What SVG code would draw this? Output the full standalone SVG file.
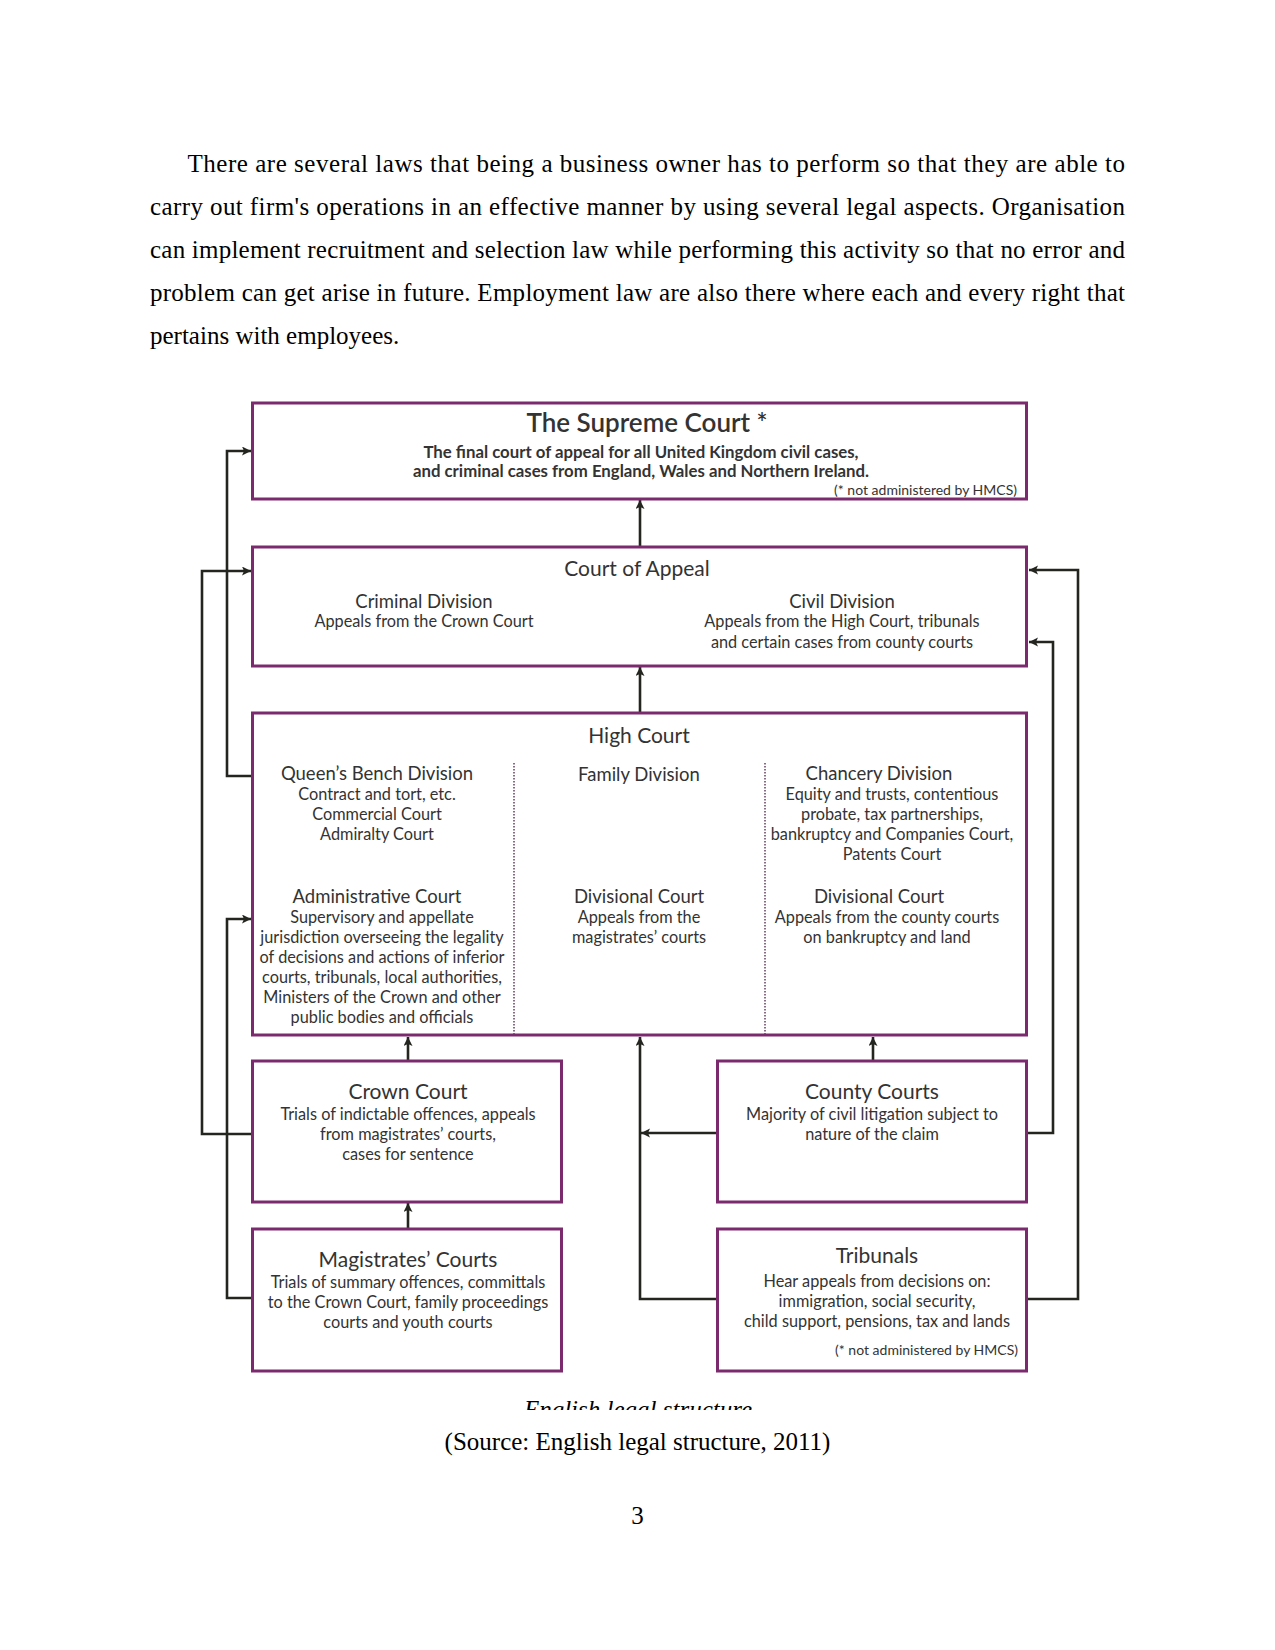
<svg xmlns="http://www.w3.org/2000/svg" width="1275" height="1650" viewBox="0 0 1275 1650">
<defs>
<style>
.p{font-family:"Liberation Serif",serif;font-size:25px;fill:#000}
.box{fill:#fff;stroke:#7b2a6e;stroke-width:3}
.ln{fill:none;stroke:#252520;stroke-width:2.6}
.div{stroke:#6b4a66;stroke-width:1.6;stroke-dasharray:1.5 1.5}
.g{font-family:Lato,"Open Sans",sans-serif;fill:#333;text-anchor:middle}
.h{font-size:21px}
.s{font-size:18.5px}
.b{font-size:16.3px}
.n{font-size:14px;text-anchor:end}
</style>
<marker id="ah" markerWidth="10" markerHeight="10" refX="9" refY="4.5" orient="auto" markerUnits="userSpaceOnUse">
<path d="M0,0 L9,4.5 L0,9 L2,4.5 z" fill="#252520"/>
</marker>
<clipPath id="cap"><rect x="0" y="0" width="1275" height="1410"/></clipPath>
</defs>
<rect width="1275" height="1650" fill="#fff"/>

<g id="paragraph">
<text class="p" x="187.5" y="172" textLength="937.5" lengthAdjust="spacing">There are several laws that being a business owner has to perform so that they are able to</text>
<text class="p" x="150" y="215" textLength="975" lengthAdjust="spacing">carry out firm's operations in an effective manner by using several legal aspects. Organisation</text>
<text class="p" x="150" y="258" textLength="975" lengthAdjust="spacing">can implement recruitment and selection law while performing this activity so that no error and</text>
<text class="p" x="150" y="301" textLength="975" lengthAdjust="spacing">problem can get arise in future. Employment law are also there where each and every right that</text>
<text class="p" x="150" y="344">pertains with employees.</text>
</g>

<g id="connectors">
<path class="ln" d="M252,776 H227 V451 H251" marker-end="url(#ah)"/>
<path class="ln" d="M252,1134 H202 V571 H251" marker-end="url(#ah)"/>
<path class="ln" d="M252,1298 H227 V919 H251" marker-end="url(#ah)"/>
<path class="ln" d="M640,546 V500" marker-end="url(#ah)"/>
<path class="ln" d="M640,713 V667" marker-end="url(#ah)"/>
<path class="ln" d="M408,1060 V1037" marker-end="url(#ah)"/>
<path class="ln" d="M408,1228 V1203" marker-end="url(#ah)"/>
<path class="ln" d="M873,1060 V1037" marker-end="url(#ah)"/>
<path class="ln" d="M717,1299 H640 V1037" marker-end="url(#ah)"/>
<path class="ln" d="M717,1133 H641" marker-end="url(#ah)"/>
<path class="ln" d="M1027,1133 H1053 V642 H1029" marker-end="url(#ah)"/>
<path class="ln" d="M1027,1299 H1078 V570 H1029" marker-end="url(#ah)"/>
</g>

<g id="supreme-court">
<rect class="box" x="252.5" y="403" width="774" height="96"/>
<text class="g" x="647" y="432" font-size="26" font-weight="600" fill="#1a1a1a">The Supreme Court *</text>
<text class="g" x="641" y="458" font-size="16.8" font-weight="bold" fill="#1a1a1a">The final court of appeal for all United Kingdom civil cases,</text>
<text class="g" x="641" y="477" font-size="16.8" font-weight="bold" fill="#1a1a1a">and criminal cases from England, Wales and Northern Ireland.</text>
<text class="g n" x="1017" y="495">(* not administered by HMCS)</text>
</g>

<g id="court-of-appeal">
<rect class="box" x="252.5" y="547" width="774" height="119"/>
<text class="g h" x="637" y="576">Court of Appeal</text>
<text class="g s" x="424" y="608">Criminal Division</text>
<text class="g b" x="424" y="627">Appeals from the Crown Court</text>
<text class="g s" x="842" y="608">Civil Division</text>
<text class="g b" x="842" y="627">Appeals from the High Court, tribunals</text>
<text class="g b" x="842" y="648">and certain cases from county courts</text>
</g>

<g id="high-court">
<rect class="box" x="252.5" y="713" width="774" height="322"/>
<line class="div" x1="514" y1="763" x2="514" y2="1034"/>
<line class="div" x1="765" y1="763" x2="765" y2="1034"/>
<text class="g h" x="639" y="743">High Court</text>
<text class="g s" x="377" y="780">Queen’s Bench Division</text>
<text class="g b" x="377" y="800">Contract and tort, etc.</text>
<text class="g b" x="377" y="820">Commercial Court</text>
<text class="g b" x="377" y="840">Admiralty Court</text>
<text class="g s" x="377" y="903">Administrative Court</text>
<text class="g b" x="382" y="923">Supervisory and appellate</text>
<text class="g b" x="382" y="943">jurisdiction overseeing the legality</text>
<text class="g b" x="382" y="963">of decisions and actions of inferior</text>
<text class="g b" x="382" y="983">courts, tribunals, local authorities,</text>
<text class="g b" x="382" y="1003">Ministers of the Crown and other</text>
<text class="g b" x="382" y="1023">public bodies and officials</text>
<text class="g s" x="639" y="781">Family Division</text>
<text class="g s" x="639" y="903">Divisional Court</text>
<text class="g b" x="639" y="923">Appeals from the</text>
<text class="g b" x="639" y="943">magistrates’ courts</text>
<text class="g s" x="879" y="780">Chancery Division</text>
<text class="g b" x="892" y="800">Equity and trusts, contentious</text>
<text class="g b" x="892" y="820">probate, tax partnerships,</text>
<text class="g b" x="892" y="840">bankruptcy and Companies Court,</text>
<text class="g b" x="892" y="860">Patents Court</text>
<text class="g s" x="879" y="903">Divisional Court</text>
<text class="g b" x="887" y="923">Appeals from the county courts</text>
<text class="g b" x="887" y="943">on bankruptcy and land</text>
</g>

<g id="crown-court">
<rect class="box" x="252.5" y="1061" width="309" height="141"/>
<text class="g h" x="408" y="1099">Crown Court</text>
<text class="g b" x="408" y="1120">Trials of indictable offences, appeals</text>
<text class="g b" x="408" y="1140">from magistrates’ courts,</text>
<text class="g b" x="408" y="1160">cases for sentence</text>
</g>

<g id="magistrates-courts">
<rect class="box" x="252.5" y="1229" width="309" height="142"/>
<text class="g h" x="408" y="1267">Magistrates’ Courts</text>
<text class="g b" x="408" y="1288">Trials of summary offences, committals</text>
<text class="g b" x="408" y="1308">to the Crown Court, family proceedings</text>
<text class="g b" x="408" y="1328">courts and youth courts</text>
</g>

<g id="county-courts">
<rect class="box" x="717.5" y="1061" width="309" height="141"/>
<text class="g h" x="872" y="1099">County Courts</text>
<text class="g b" x="872" y="1120">Majority of civil litigation subject to</text>
<text class="g b" x="872" y="1140">nature of the claim</text>
</g>

<g id="tribunals">
<rect class="box" x="717.5" y="1229" width="309" height="142"/>
<text class="g h" x="877" y="1263">Tribunals</text>
<text class="g b" x="877" y="1287">Hear appeals from decisions on:</text>
<text class="g b" x="877" y="1307">immigration, social security,</text>
<text class="g b" x="877" y="1327">child support, pensions, tax and lands</text>
<text class="g n" x="1018" y="1355">(* not administered by HMCS)</text>
</g>

<g id="captions">
<text class="p" x="638" y="1418" text-anchor="middle" font-style="italic" clip-path="url(#cap)">English legal structure</text>
<text class="p" x="637.5" y="1450" text-anchor="middle">(Source: English legal structure, 2011)</text>
<text class="p" x="637.5" y="1524" text-anchor="middle">3</text>
</g>
</svg>
